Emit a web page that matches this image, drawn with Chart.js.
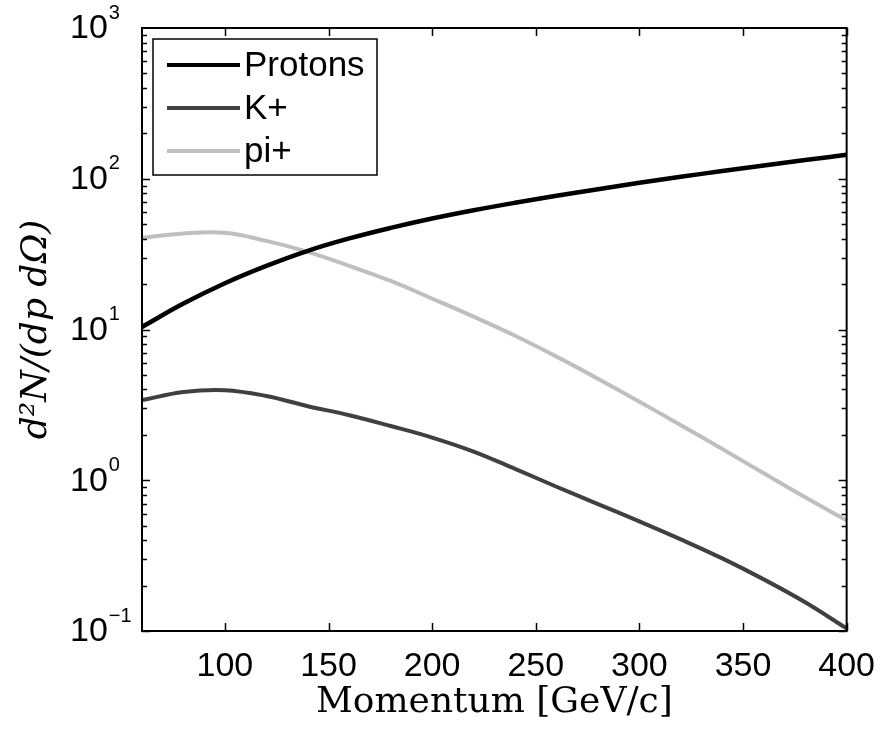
<!DOCTYPE html>
<html>
<head>
<meta charset="utf-8">
<script src="https://cdn.jsdelivr.net/npm/chart.js@4.4.1/dist/chart.umd.min.js"></script>
<style>
  html, body { margin: 0; padding: 0; background: #fff; }
  #wrap { width: 882px; height: 729px; position: relative; }
</style>
</head>
<body>
<div id="wrap"><canvas id="graph"></canvas></div>
<script>
// momentum grid [GeV/c] and yields d2N/(dp dOmega)
var momentum = [60, 80, 100, 120, 140, 160, 180, 200, 220, 240, 260, 280, 300, 320, 340, 360, 380, 400];
var protons  = [10.4, 14.86, 20.28, 26.42, 33.27, 40.18, 47.2, 54.45, 61.8, 69.3, 77.1, 85.3, 94.0, 103.0, 112.5, 122.5, 133.0, 144.2];
var kaons    = [3.40, 3.85, 3.96, 3.62, 3.10, 2.70, 2.29, 1.92, 1.55, 1.19, 0.906, 0.695, 0.533, 0.405, 0.303, 0.220, 0.155, 0.104];
var pions    = [40.5, 43.4, 43.8, 38.7, 32.7, 26.4, 21.0, 16.03, 12.16, 9.08, 6.61, 4.72, 3.32, 2.32, 1.61, 1.114, 0.771, 0.542];

var names  = ['Protons', 'K+', 'pi+'];
var colors = ['#000000', '#404040', '#bfbfbf'];

var xTicks = [100, 150, 200, 250, 300, 350, 400];
var yTicks = [0.1, 1, 10, 100, 1000];

const sansFont = 'Liberation Sans, Arial, sans-serif';
const serifFont = 'DejaVu Serif, Liberation Serif, serif';

function pts(vals)
{
    return momentum.map(function(m, i) { return { x: m, y: vals[i] }; });
}

// box, inward ticks, y labels with exponents, legend
var frame = {
    id: 'frame',
    afterDatasetsDraw: function(chart) {
        var c = chart.ctx;
        var a = chart.chartArea;
        var xs = chart.scales.x, ys = chart.scales.y;
        c.save();
        c.strokeStyle = '#000';
        c.lineWidth = 2;
        c.strokeRect(a.left, a.top, a.right - a.left, a.bottom - a.top);

        c.beginPath();
        xTicks.forEach(function(t) {
            var px = Math.round(xs.getPixelForValue(t)) + 0.5;
            c.moveTo(px, a.bottom); c.lineTo(px, a.bottom - 8);
            c.moveTo(px, a.top); c.lineTo(px, a.top + 8);
        });
        for (var e = -1; e < 3; e++) {
            for (var k = 1; k <= 9; k++) {
                var v = k * Math.pow(10, e);
                var py = Math.round(ys.getPixelForValue(v)) + 0.5;
                var len = (k == 1) ? 8 : 5;
                c.moveTo(a.left, py); c.lineTo(a.left + len, py);
                c.moveTo(a.right, py); c.lineTo(a.right - len, py);
            }
        }
        c.lineWidth = 1.5;
        c.stroke();

        // y tick labels 10^n
        c.fillStyle = '#000';
        c.textBaseline = 'middle';
        c.textAlign = 'left';
        yTicks.forEach(function(t) {
            var py = ys.getPixelForValue(t);
            var ex = Math.round(Math.log10(t));
            c.font = '34px ' + sansFont;
            c.fillText('10', 70, py + 1);
            var w = c.measureText('10').width;
            c.font = '20px ' + sansFont;
            c.fillText(ex < 0 ? '\u2212' + (-ex) : String(ex), 70 + w + 1, py - 15);
        });

        // legend
        var lx = a.left + 11, ly = a.top + 11, lw = 224, lh = 136;
        c.fillStyle = '#fff';
        c.fillRect(lx, ly, lw, lh);
        c.strokeStyle = '#000';
        c.lineWidth = 1.5;
        c.strokeRect(lx, ly, lw, lh);
        chart.data.datasets.forEach(function(ds, i) {
            var ry = ly + 26 + i * 43;
            c.strokeStyle = ds.borderColor;
            c.lineWidth = 4;
            c.beginPath();
            c.moveTo(lx + 14, ry); c.lineTo(lx + 87, ry);
            c.stroke();
            c.fillStyle = '#000';
            c.font = '35px ' + sansFont;
            c.textBaseline = 'middle';
            c.fillText(ds.label, lx + 91, ry + 1);
        });
        c.restore();
    }
};

var g = document.getElementById('graph').getContext('2d');

var graph = new Chart(g, {
    type: 'line',
    data: {
        datasets: [
            { label: names[0], data: pts(protons), borderColor: colors[0], borderWidth: 4.5 },
            { label: names[1], data: pts(kaons),   borderColor: colors[1], borderWidth: 4 },
            { label: names[2], data: pts(pions),   borderColor: colors[2], borderWidth: 4 }
        ]
    },
    options: {
        responsive: true,
        maintainAspectRatio: false,
        animation: false,
        layout: { padding: { left: 15, right: 35, top: 28, bottom: 5 } },
        elements: {
            point: { radius: 0 },
            line: { tension: 0.4, fill: false }
        },
        plugins: { legend: { display: false }, tooltip: { enabled: false } },
        scales: {
            x: {
                type: 'linear',
                min: 60, max: 400,
                grid: { display: false },
                border: { display: false },
                afterBuildTicks: function(s) { s.ticks = xTicks.map(function(v) { return { value: v }; }); },
                afterFit: function(s) { s.height = 93; },
                ticks: { color: '#000', padding: 7, maxRotation: 0, font: { family: sansFont, size: 34 } },
                title: {
                    display: true,
                    text: 'Momentum [GeV/c]',
                    color: '#000',
                    font: { family: serifFont, size: 36 },
                    padding: 0
                }
            },
            y: {
                type: 'logarithmic',
                min: 0.1, max: 1000,
                grid: { display: false },
                border: { display: false },
                afterBuildTicks: function(s) { s.ticks = yTicks.map(function(v) { return { value: v }; }); },
                afterFit: function(s) { s.width = 127; },
                ticks: { display: false },
                title: {
                    display: true,
                    text: 'd\u00b2N/(dp d\u03a9)',
                    color: '#000',
                    font: { family: serifFont, size: 36, style: 'italic' },
                    padding: 0
                }
            }
        }
    },
    plugins: [frame]
});
</script>
</body>
</html>
